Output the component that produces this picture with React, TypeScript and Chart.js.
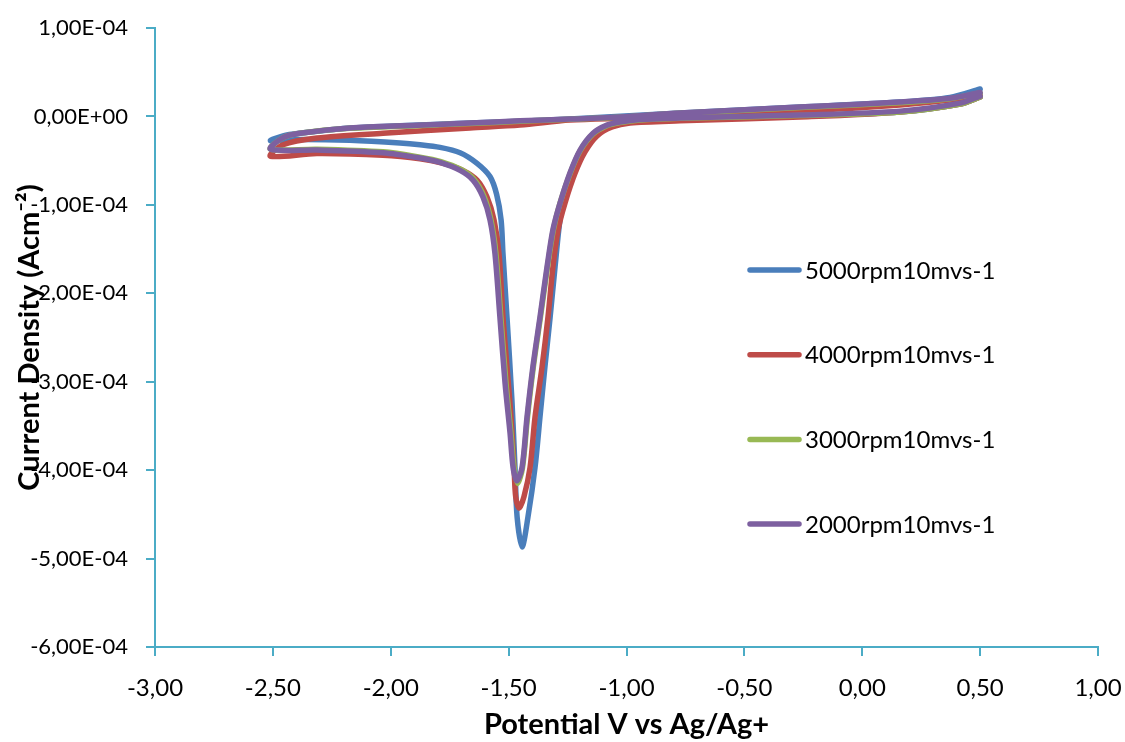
import React, { useEffect, useRef } from 'react';
import { Chart, registerables } from 'chart.js';

Chart.register(...registerables);

// Current values are given in units of 1e-4 A/cm² and scaled below.
const CURRENT_UNIT = 1e-4;

const seriesLabels = ['5000rpm10mvs-1', '4000rpm10mvs-1', '3000rpm10mvs-1', '2000rpm10mvs-1'];
const seriesColors = ['#4A7EBB', '#BE4B48', '#98B954', '#7D60A0'];

const potential5000 = [
  0.5, 0.415, 0.16, -0.264, -0.773, -0.985, -1.061, -1.121, -1.176, -1.218,
  -1.257, -1.282, -1.303, -1.324, -1.346, -1.367, -1.388, -1.418, -1.443, -1.464,
  -1.473, -1.486, -1.507, -1.524, -1.532, -1.551, -1.579, -1.634, -1.706, -1.791,
  -1.876, -1.961, -2.173, -2.385, -2.51,
  -2.457, -2.385, -2.173, -1.664, -1.24, -0.773, -0.264, 0.16, 0.372, 0.5,
];
const current5000 = [
  0.22, 0.14, 0.05, 0.005, -0.03, -0.05, -0.098, -0.19, -0.36, -0.55,
  -0.83, -1.17, -1.7, -2.27, -2.83, -3.4, -3.97, -4.53, -4.87, -4.53,
  -3.97, -3.21, -2.27, -1.55, -1.17, -0.88, -0.68, -0.53, -0.41, -0.35,
  -0.32, -0.3, -0.27, -0.26, -0.275,
  -0.22, -0.19, -0.13, -0.075, -0.03, 0.04, 0.106, 0.163, 0.215, 0.31,
];

const potential4000 = [
  0.5, 0.415, 0.16, -0.264, -0.773, -0.985, -1.061, -1.125, -1.176, -1.218,
  -1.261, -1.29, -1.312, -1.333, -1.358, -1.388, -1.409, -1.435, -1.456, -1.47,
  -1.477, -1.49, -1.507, -1.524, -1.541, -1.562, -1.592, -1.634, -1.694, -1.778,
  -1.876, -2.033, -2.313, -2.51,
  -2.457, -2.313, -2.033, -1.664, -1.452, -1.24, -0.985, -0.688, -0.264, 0.16, 0.372, 0.5,
];
const current4000 = [
  0.22, 0.14, 0.05, -0.007, -0.05, -0.075, -0.12, -0.22, -0.4, -0.64,
  -0.98, -1.28, -1.7, -2.27, -2.83, -3.4, -3.97, -4.3, -4.43, -4.3,
  -3.97, -3.4, -2.83, -2.27, -1.55, -1.17, -0.91, -0.72, -0.61, -0.53,
  -0.48, -0.44, -0.42, -0.45,
  -0.32, -0.245, -0.19, -0.13, -0.098, -0.04, -0.018, 0.016, 0.06, 0.13, 0.185, 0.24,
];

const potential3000 = [
  0.5, 0.415, 0.16, -0.264, -0.773, -0.943, -1.028, -1.083, -1.142, -1.197,
  -1.24, -1.282, -1.31, -1.335, -1.365, -1.395, -1.42, -1.441, -1.462, -1.477,
  -1.49, -1.511, -1.533, -1.554, -1.575, -1.605, -1.647, -1.702, -1.787, -1.876,
  -2.033, -2.313, -2.51,
  -2.457, -2.385, -2.173, -1.889, -1.664, -1.452, -1.24, -1.028, -0.773, -0.264, 0.16, 0.372, 0.5,
];
const current3000 = [
  0.22, 0.14, 0.05, 0.01, -0.02, -0.04, -0.07, -0.105, -0.2, -0.39,
  -0.65, -0.98, -1.28, -1.7, -2.27, -2.83, -3.4, -3.97, -4.15, -3.97,
  -3.58, -3.02, -2.27, -1.55, -1.17, -0.9, -0.71, -0.6, -0.51, -0.46,
  -0.4, -0.37, -0.37,
  -0.24, -0.19, -0.135, -0.105, -0.08, -0.055, -0.033, -0.01, 0.035, 0.1, 0.155, 0.2, 0.265,
];

const potential2000 = [
  0.5, 0.415, 0.16, -0.264, -0.773, -0.943, -1.028, -1.083, -1.142, -1.197,
  -1.24, -1.282, -1.312, -1.337, -1.367, -1.397, -1.422, -1.443, -1.465, -1.481,
  -1.494, -1.515, -1.537, -1.558, -1.579, -1.609, -1.651, -1.706, -1.791, -1.876,
  -2.033, -2.313, -2.51,
  -2.457, -2.385, -2.173, -1.889, -1.664, -1.452, -1.24, -1.028, -0.773, -0.264, 0.16, 0.372, 0.5,
];
const current2000 = [
  0.23, 0.15, 0.06, 0.016, -0.018, -0.035, -0.063, -0.098, -0.19, -0.38,
  -0.64, -0.98, -1.28, -1.7, -2.27, -2.83, -3.4, -3.97, -4.12, -3.97,
  -3.58, -3.02, -2.27, -1.55, -1.17, -0.91, -0.72, -0.61, -0.52, -0.47,
  -0.41, -0.38, -0.37,
  -0.24, -0.19, -0.13, -0.1, -0.075, -0.05, -0.03, -0.007, 0.04, 0.106, 0.163, 0.205, 0.27,
];

const seriesPotentials = [potential5000, potential4000, potential3000, potential2000];
const seriesCurrents = [current5000, current4000, current3000, current2000];

const xMin = -3;
const xMax = 1;
const xStep = 0.5;
const yMin = -6e-4;
const yMax = 1e-4;
const yStep = 1e-4;

const xTitle = 'Potential V vs Ag/Ag+';
const yTitle = 'Current Density (Acm\u207B\u00B2)';

const AXIS_COLOR = '#4BACC6';
const FONT = 'Lato, "Open Sans", sans-serif';

function formatY(v: number): string {
  if (Math.abs(v) < 1e-12) return '0,00E+00';
  const [m, e] = v.toExponential(2).split('e');
  const en = parseInt(e, 10);
  return m.replace('.', ',') + 'E' + (en < 0 ? '-' : '+') + String(Math.abs(en)).padStart(2, '0');
}

function formatX(v: number): string {
  return (Math.round(v * 100) / 100).toFixed(2).replace('.', ',');
}

function clearScalePadding(scale: any) {
  scale.paddingLeft = 0;
  scale.paddingRight = 0;
  scale.paddingTop = 0;
  scale.paddingBottom = 0;
}

const sideLegend = {
  id: 'sideLegend',
  afterDraw(chart: any) {
    const ctx = chart.ctx;
    const startY = 270;
    const gap = 84.7;
    seriesLabels.forEach((label, i) => {
      const y = startY + i * gap;
      ctx.save();
      ctx.strokeStyle = seriesColors[i];
      ctx.lineWidth = 5.5;
      ctx.lineCap = 'round';
      ctx.beginPath();
      ctx.moveTo(750, y);
      ctx.lineTo(799, y);
      ctx.stroke();
      ctx.fillStyle = '#000';
      ctx.font = `24px ${FONT}`;
      ctx.textBaseline = 'middle';
      ctx.textAlign = 'left';
      ctx.fillText(label, 805, y + 1);
      ctx.restore();
    });
  },
};

export default function App() {
  const ref = useRef<HTMLCanvasElement>(null);

  useEffect(() => {
    document.body.style.margin = '0';
    const datasets = seriesLabels.map((label, i) => ({
      label,
      data: seriesPotentials[i].map((x, k) => ({ x, y: seriesCurrents[i][k] * CURRENT_UNIT })),
      borderColor: seriesColors[i],
      backgroundColor: seriesColors[i],
      borderWidth: 5.5,
      pointRadius: 0,
      showLine: true,
      tension: 0.3,
      borderCapStyle: 'round' as const,
      borderJoinStyle: 'round' as const,
      order: seriesLabels.length - 1 - i,
    }));

    const chart = new Chart(ref.current as HTMLCanvasElement, {
      type: 'scatter',
      data: { datasets },
      plugins: [sideLegend],
      options: {
        responsive: false,
        animation: false,
        devicePixelRatio: 1,
        layout: { padding: { top: 28, right: 27, left: 0, bottom: 0 } },
        plugins: { legend: { display: false }, tooltip: { enabled: false } },
        scales: {
          x: {
            type: 'linear',
            min: xMin,
            max: xMax,
            ticks: {
              stepSize: xStep,
              callback: (v: any) => formatX(Number(v)),
              color: '#000',
              font: { family: FONT, size: 24 },
              padding: 18,
              maxRotation: 0,
            },
            grid: { drawOnChartArea: false, drawTicks: true, tickLength: 9, color: AXIS_COLOR, lineWidth: 2 },
            border: { display: true, color: AXIS_COLOR, width: 2 },
            title: {
              display: true,
              text: xTitle,
              color: '#000',
              font: { family: FONT, size: 29, weight: 'bold' },
              padding: { top: 0, bottom: 0 },
            },
            afterFit: (scale: any) => { scale.height = 95; clearScalePadding(scale); },
          },
          y: {
            type: 'linear',
            min: yMin,
            max: yMax,
            ticks: {
              stepSize: yStep,
              callback: (v: any) => formatY(Number(v)),
              color: '#000',
              font: { family: FONT, size: 22 },
              padding: 18,
            },
            grid: { drawOnChartArea: false, drawTicks: true, tickLength: 9, color: AXIS_COLOR, lineWidth: 2 },
            border: { display: true, color: AXIS_COLOR, width: 2 },
            title: {
              display: true,
              text: yTitle,
              color: '#000',
              font: { family: FONT, size: 29, weight: 'bold' },
              padding: { top: 12, bottom: 0 },
            },
            afterFit: (scale: any) => { scale.width = 155; clearScalePadding(scale); },
          },
        },
      },
    } as any);
    return () => chart.destroy();
  }, []);

  return (
    <div style={{ width: 1125, height: 742, background: '#fff' }}>
      <canvas ref={ref} width={1125} height={742} style={{ display: 'block' }} />
    </div>
  );
}
